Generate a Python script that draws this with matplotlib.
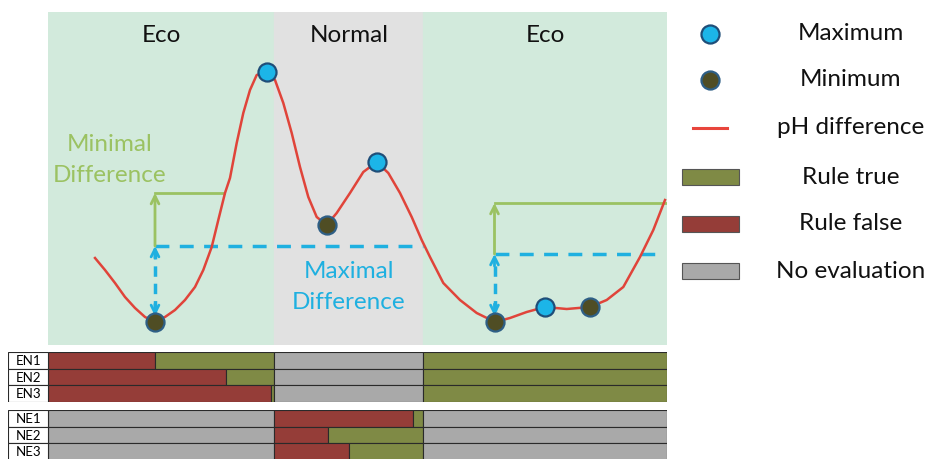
import matplotlib.pyplot as plt
from matplotlib.patches import Rectangle

plt.rcParams['font.family'] = ['Lato', 'DejaVu Sans']

# operating modes (time axis, arbitrary units)
mode_names = ['Eco', 'Normal', 'Eco']
mode_bounds = [0, 226, 375, 618.4]

# pH difference curve
t = [46.7, 56.7, 66.7, 76.7, 86.7, 96.7, 106.7, 116.7, 126.7, 136.7,
     146.7, 155.0, 163.4, 170.0, 176.7, 181.7, 188.4, 195.0, 201.7, 208.4,
     218.4, 226.7, 235.0, 243.4, 251.7, 260.0, 268.4, 278.4, 288.4, 301.7,
     315.0, 328.4, 340.0, 351.7, 363.4, 373.4, 381.7, 395.0, 411.7, 428.4,
     446.7, 461.7, 478.4, 496.7, 518.4, 541.7, 558.4, 575.0, 591.7, 605.0,
     616.7]
ph = [0.87, 0.75, 0.62, 0.48, 0.37, 0.28, 0.23, 0.28, 0.35, 0.45,
      0.58, 0.75, 0.98, 1.25, 1.52, 1.67, 2.02, 2.32, 2.55, 2.70,
      2.73, 2.65, 2.42, 2.12, 1.78, 1.48, 1.28, 1.20, 1.32, 1.52,
      1.73, 1.83, 1.72, 1.52, 1.28, 1.05, 0.88, 0.62, 0.45, 0.32,
      0.23, 0.27, 0.33, 0.38, 0.36, 0.38, 0.45, 0.58, 0.88, 1.15,
      1.45]

max_t = [218.4, 328.4, 496.7]
max_v = [2.73, 1.83, 0.38]
min_t = [106.7, 278.4, 446.7, 541.7]
min_v = [0.23, 1.20, 0.23, 0.38]

# thresholds drawn from the reference minimum of each Eco phase
thr_start = [106.7, 446.2]
thr_min_end = [176.0, 618.4]
thr_max_end = [374.7, 612]
thr_base = [0.29, 0.29]
thr_maxdiff = [0.99, 0.91]
thr_mindiff = [1.52, 1.42]

# rule evaluation: time when rule became true inside its mode
en_rules = ['EN1', 'EN2', 'EN3']
en_true_at = [106.7, 177.4, 222.4]
ne_rules = ['NE1', 'NE2', 'NE3']
ne_true_at = [364.4, 280.0, 300.7]

c_eco = '#d2eadc'
c_norm = '#e1e1e1'
c_curve = '#e0443a'
c_green = '#9bc262'
c_blue = '#1fb0e0'
c_true = '#7f8a45'
c_false = '#953d38'
c_none = '#a9a9a9'
c_max = '#1cb5e8'
c_min = '#4f4d24'

fig = plt.figure(figsize=(9.26, 4.59), dpi=100)
ax = fig.add_axes([48.3 / 926, 114 / 459, 618.4 / 926, 333 / 459])
ax.set_xlim(0, 618.4)
ax.set_ylim(0, 3.33)
ax.set_axis_off()

for i, name in enumerate(mode_names):
    col = c_eco if name == 'Eco' else c_norm
    ax.axvspan(mode_bounds[i], mode_bounds[i + 1], color=col, zorder=0)
    ax.text((mode_bounds[i] + mode_bounds[i + 1]) / 2, 3.1, name, ha='center',
            va='center', fontsize=17.5, color='#111111')

ax.plot(t, ph, color=c_curve, lw=1.8, zorder=3, solid_joinstyle='round')

for i in range(len(thr_start)):
    x0 = thr_start[i]
    ax.plot([x0, thr_min_end[i]], [thr_mindiff[i], thr_mindiff[i]], color=c_green, lw=2, zorder=2)
    ax.plot([x0, thr_max_end[i]], [thr_maxdiff[i], thr_maxdiff[i]], color=c_blue, lw=2.5,
            dashes=(4, 3), zorder=2)
    ax.annotate('', xy=(x0, thr_mindiff[i]), xytext=(x0, thr_maxdiff[i]),
                arrowprops=dict(arrowstyle='->', color=c_green, lw=2, shrinkA=0, shrinkB=0,
                                mutation_scale=14), zorder=2)
    ax.plot([x0, x0], [thr_base[i] + 0.05, thr_maxdiff[i] - 0.05], color=c_blue, lw=2.5,
            dashes=(3, 2), zorder=2)
    ax.annotate('', xy=(x0, thr_base[i]), xytext=(x0, thr_base[i] + 0.12),
                arrowprops=dict(arrowstyle='->', color=c_blue, lw=2, shrinkA=0, shrinkB=0,
                                mutation_scale=14), zorder=2)
    ax.annotate('', xy=(x0, thr_maxdiff[i]), xytext=(x0, thr_maxdiff[i] - 0.12),
                arrowprops=dict(arrowstyle='->', color=c_blue, lw=2, shrinkA=0, shrinkB=0,
                                mutation_scale=14), zorder=2)

ax.plot(max_t, max_v, 'o', ms=13, mfc=c_max, mec='#1f4e79', mew=1.6, zorder=4)
ax.plot(min_t, min_v, 'o', ms=13, mfc=c_min, mec='#2e5f86', mew=1.6, zorder=4)

ax.text(61.7, 1.85, 'Minimal\nDifference', color=c_green, fontsize=17.5, ha='center',
        va='center', linespacing=1.6)
ax.text(300.7, 0.58, 'Maximal\nDifference', color=c_blue, fontsize=17.5, ha='center',
        va='center', linespacing=1.6)


def rule_axes(top_px, names, true_at, eval_mode):
    h = 49.6
    bax = fig.add_axes([8 / 926, (459 - top_px - h) / 459, 658.7 / 926, h / 459])
    bax.set_xlim(-40.3, 618.4)
    bax.set_ylim(3, 0)
    bax.set_axis_off()
    for r, name in enumerate(names):
        for m in range(len(mode_names)):
            a, b = mode_bounds[m], mode_bounds[m + 1]
            if m == eval_mode:
                bax.barh(r + 0.5, true_at[r] - a, left=a, height=1, color=c_false,
                         edgecolor='#2a2a2a', lw=0.8)
                bax.barh(r + 0.5, b - true_at[r], left=true_at[r], height=1, color=c_true,
                         edgecolor='#2a2a2a', lw=0.8)
            else:
                state = c_true if (mode_names[m] == mode_names[eval_mode]) else c_none
                bax.barh(r + 0.5, b - a, left=a, height=1, color=state,
                         edgecolor='#2a2a2a', lw=0.8)
        bax.add_patch(Rectangle((-40.3, r), 40.3, 1, facecolor='white', edgecolor='#2a2a2a',
                                lw=0.8))
        bax.text(-20, r + 0.55, name, ha='center', va='center', fontsize=9.5)
    return bax


rule_axes(352.3, en_rules, en_true_at, 0)
rule_axes(410, ne_rules, ne_true_at, 1)

# legend key
lg = fig.add_axes([0, 0, 1, 1])
lg.set_xlim(0, 926)
lg.set_ylim(459, 0)
lg.set_axis_off()
lg.plot([710], [34], 'o', ms=13, mfc=c_max, mec='#1f4e79', mew=1.6)
lg.plot([710], [80], 'o', ms=13, mfc=c_min, mec='#2e5f86', mew=1.6)
lg.plot([693, 727], [128, 128], color='#e8453c', lw=2.2)
for y, col in zip([177, 224, 271], [c_true, c_false, c_none]):
    lg.add_patch(Rectangle((682, y - 8), 57, 16, facecolor=col, edgecolor='#555555', lw=0.8))
labels = ['Maximum', 'Minimum', 'pH difference', 'Rule true', 'Rule false', 'No evaluation']
for y, lab in zip([34, 80, 128, 177, 224, 271], labels):
    lg.text(851, y, lab, ha='center', va='center', fontsize=17.5, color='#111111')

fig.savefig('out.png', dpi=100)
